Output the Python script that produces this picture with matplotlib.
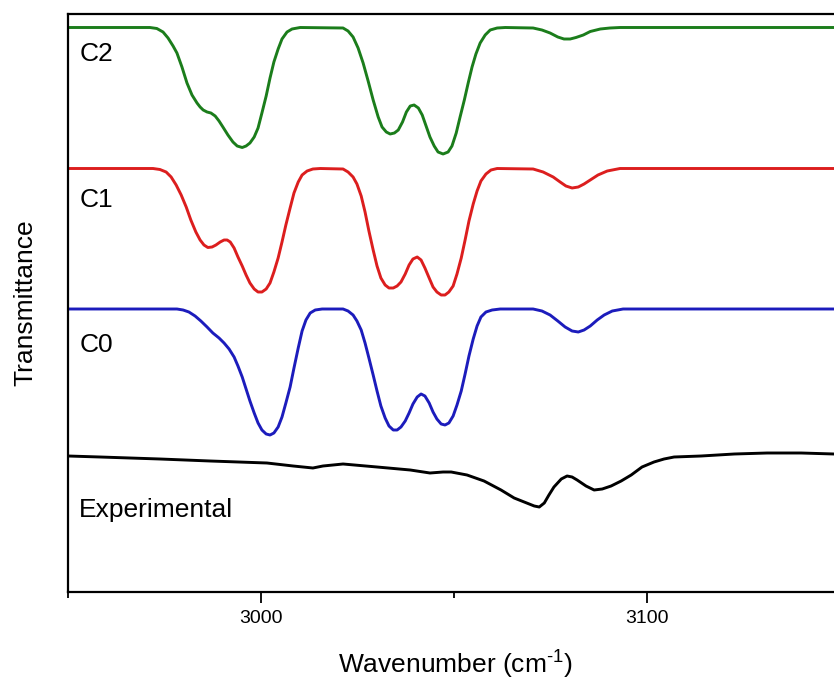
import numpy as np
import matplotlib
matplotlib.use("Agg")
import matplotlib.pyplot as plt
from matplotlib.ticker import FixedLocator

plt.rcParams['font.family'] = ['Liberation Sans', 'DejaVu Sans']
plt.rcParams['mathtext.fontset'] = 'custom'
plt.rcParams['mathtext.rm'] = 'Liberation Sans'

# spectra: wavenumber (cm-1) and stacked transmittance (arb. units)
c2_x = [2950.0, 2971.2, 2973.0, 2974.6, 2975.9, 2977.2, 2978.2, 2979.5, 2980.8, 2982.1,
        2983.4, 2984.2, 2985.0, 2986.0, 2987.0, 2988.1, 2989.1, 2990.1, 2991.4, 2992.7,
        2993.8, 2995.1, 2996.1, 2997.1, 2998.2, 2999.2, 3000.2, 3001.3, 3002.3, 3003.3,
        3004.4, 3005.4, 3006.7, 3008.0, 3010.1,
        3021.2, 3022.5, 3023.8, 3025.1, 3026.4, 3027.7, 3029.0, 3030.3, 3031.3, 3032.4,
        3033.4, 3034.5, 3035.5, 3036.6, 3037.6, 3038.6, 3039.6, 3040.7, 3041.7, 3042.7,
        3043.7, 3044.8, 3045.8, 3047.1, 3048.4, 3049.4, 3050.5, 3051.5, 3052.6, 3053.6,
        3054.6, 3055.6, 3056.7, 3058.0, 3059.3, 3061.1, 3063.2,
        3070.4, 3072.7, 3074.8, 3076.8, 3078.4, 3080.0, 3081.5, 3083.4, 3085.2, 3087.8,
        3090.3, 3092.9, 3148.3]
c2_y = [564.5, 564.5, 563.5, 560, 554, 546, 539, 525, 509, 497,
        489, 485, 482, 480, 479, 476, 471, 465, 457, 450,
        446, 444.5, 446, 449, 455, 464, 479, 496, 514, 530,
        543, 553, 560, 563, 564.5,
        564, 561, 555, 544, 529, 511, 492, 475, 465, 460,
        458, 459, 462, 470, 480, 486, 487, 484, 477, 466,
        455, 446, 440, 438, 440, 446, 459, 475, 492, 509,
        525, 538, 549, 557, 562, 564, 564.5,
        564, 562, 559, 555, 553, 553, 554.5, 557, 560.5, 563,
        564, 564.5, 564.5]

c1_x = [2950.0, 2972.0, 2973.8, 2975.4, 2976.7, 2978.0, 2979.3, 2980.6, 2981.8, 2983.1,
        2984.2, 2985.2, 2986.2, 2987.3, 2988.3, 2989.4, 2990.4, 2991.2, 2992.0, 2993.0,
        2994.0, 2995.1, 2996.1, 2997.1, 2998.2, 2999.2, 3000.2, 3001.3, 3002.3, 3003.3,
        3004.4, 3005.4, 3006.4, 3007.5, 3008.5, 3009.6, 3010.6, 3011.9, 3013.4, 3015.3,
        3021.2, 3022.5, 3023.8, 3024.8, 3025.9, 3026.9, 3027.9, 3029.0, 3030.0, 3031.0,
        3032.1, 3033.1, 3034.2, 3035.2, 3036.2, 3037.3, 3038.3, 3039.3, 3040.4, 3041.4,
        3042.4, 3043.5, 3044.5, 3045.5, 3046.6, 3047.6, 3048.6, 3049.7, 3050.7, 3051.8,
        3052.8, 3053.8, 3054.9, 3055.9, 3056.9, 3058.2, 3059.5, 3061.1,
        3070.4, 3073.0, 3075.6, 3077.4, 3078.9, 3080.5, 3082.1, 3083.6, 3085.2, 3087.2,
        3089.6, 3092.9, 3148.3]
c1_y = [423.5, 423.5, 422.5, 420, 415, 407, 397, 385, 372, 360,
        352, 347, 344.5, 345, 347, 350, 352, 352, 350, 344,
        335, 326, 317, 309, 303, 300, 300, 303, 309, 320,
        334, 350, 367, 384, 399, 410, 417, 421, 423, 423.5,
        423, 420, 415, 408, 396, 380, 361, 342, 326, 314,
        307, 304, 304, 306, 310, 318, 327, 333, 335, 332,
        324, 314, 305, 300, 297, 297, 300, 306, 318, 334,
        352, 371, 388, 401, 411, 418, 422, 423.5,
        423, 420, 415, 410, 406, 404, 405, 408, 412, 417,
        421, 423.5, 423.5]

c0_x = [2950.0, 2978.2, 2979.8, 2981.3, 2982.9, 2984.4, 2986.0, 2987.5, 2989.1, 2990.4,
        2991.7, 2993.0, 2994.0, 2995.1, 2996.1, 2997.1, 2998.2, 2999.2, 3000.2, 3001.3,
        3002.3, 3003.3, 3004.4, 3005.4, 3006.4, 3007.5, 3008.5, 3009.6, 3010.6, 3011.6,
        3012.7, 3014.0, 3015.8,
        3021.2, 3022.5, 3023.8, 3024.8, 3025.9, 3026.9, 3027.9, 3029.0, 3030.0, 3031.0,
        3032.1, 3033.1, 3034.2, 3035.2, 3036.2, 3037.3, 3038.3, 3039.3, 3040.4, 3041.4,
        3042.4, 3043.5, 3044.5, 3045.5, 3046.6, 3047.6, 3048.6, 3049.7, 3050.7, 3051.8,
        3052.8, 3053.8, 3054.9, 3055.9, 3056.9, 3058.2, 3059.8, 3061.9,
        3070.4, 3072.7, 3074.8, 3076.8, 3078.7, 3080.5, 3082.1, 3083.6, 3085.2, 3087.0,
        3088.8, 3090.9, 3093.7, 3148.3]
c0_y = [283, 283, 282, 280, 276, 271, 265, 259, 254, 249,
        243, 235, 226, 215, 203, 191, 179, 169, 162, 158,
        157, 159, 165, 175, 189, 205, 224, 244, 261, 272,
        279, 282, 283,
        283, 281, 277, 271, 262, 249, 234, 217, 201, 186,
        174, 166, 162, 162, 165, 171, 179, 188, 195, 198,
        196, 189, 180, 173, 168, 167, 169, 176, 187, 201,
        218, 236, 253, 266, 275, 280, 282, 283,
        283, 281, 277, 271, 265, 261, 260, 262, 266, 272,
        277, 281, 283, 283]

exp_x = [2950.0, 2958.3, 2973.8, 2986.8, 3001.5, 3008.3, 3013.4, 3016.0, 3021.2, 3030.0,
         3038.6, 3043.7, 3047.1, 3049.2, 3053.3, 3057.7, 3062.1, 3065.5, 3068.1, 3070.7,
         3072.0, 3073.3, 3074.5, 3075.8, 3077.7, 3079.2, 3080.5, 3081.8, 3084.1, 3086.2,
         3088.3, 3090.6, 3093.2, 3095.8, 3098.6, 3101.7, 3104.3, 3106.9, 3113.9, 3122.5,
         3131.0, 3139.8, 3148.3]
exp_y = [136, 135, 133, 131, 129, 126, 124, 126, 128, 125,
         122, 119, 120, 120, 117, 111, 102, 94, 90, 86,
         85, 89, 97, 105, 113, 116, 115, 112, 106, 102,
         103, 106, 111, 117, 125, 130, 133, 135, 136, 138,
         139, 139, 138]

names = ['C2', 'C1', 'C0', 'Experimental']
label_y = [538, 392, 247, 82]
colors = ['#1b7d1b', '#dc1e1e', '#1c1cbc', '#000000']

fig = plt.figure(figsize=(8.34, 6.83), dpi=100)
ax = fig.add_axes([68 / 834, 1 - 592 / 683, 1 - 68 / 834, 578 / 683])

for xs, ys, c in zip([c2_x, c1_x, c0_x, exp_x], [c2_y, c1_y, c0_y, exp_y], colors):
    ax.plot(xs, ys, color=c, lw=2.1, solid_joinstyle='round', solid_capstyle='round')

for name, ly in zip(names, label_y):
    ax.text(2952.9, ly, name, fontsize=19, va='center', ha='left')

ax.set_xlim(2950, 3148.3)
ax.set_ylim(0, 578)
ax.xaxis.set_major_locator(FixedLocator([3000, 3100]))
ax.xaxis.set_minor_locator(FixedLocator([2950, 3050, 3150]))
ax.tick_params(axis='x', which='major', direction='out', length=8, width=1.3,
               labelsize=14, pad=5)
ax.tick_params(axis='x', which='minor', direction='out', length=4, width=1.3)
ax.set_yticks([])
ax.spines['right'].set_visible(False)
for s in ['left', 'top', 'bottom']:
    ax.spines[s].set_linewidth(1.6)

fig.text(25 / 834, 1 - 303 / 683, 'Transmittance', rotation=90, fontsize=19,
         ha='center', va='center')
fig.text(455 / 834, 1 - 664 / 683, r'Wavenumber (cm$^{\text{-1}}$)', fontsize=19,
         ha='center', va='center')

fig.savefig('out.png', dpi=100)
